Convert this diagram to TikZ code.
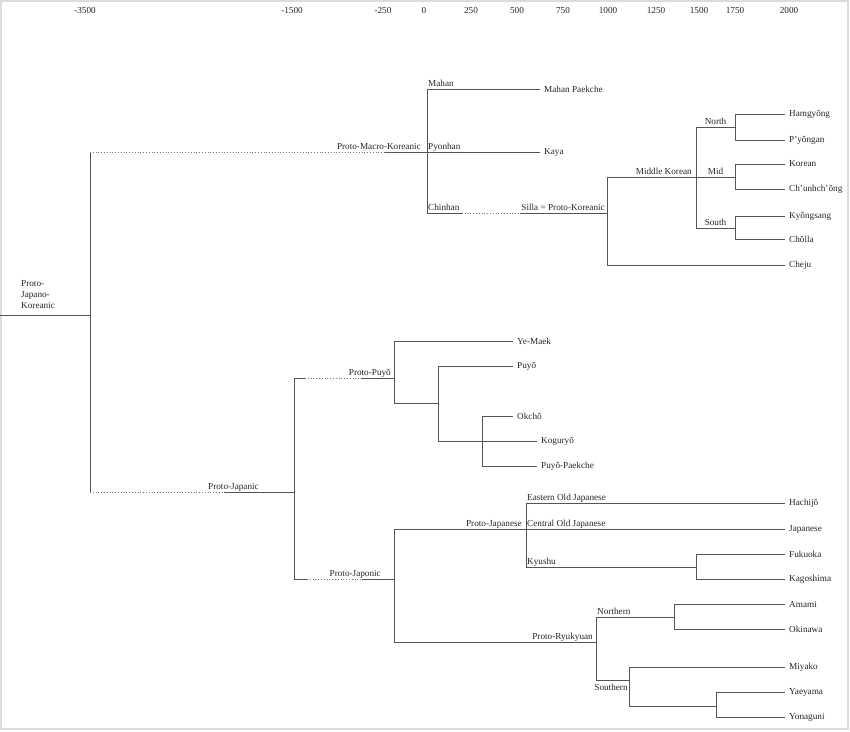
\documentclass[tikz,border=0pt]{standalone}
\usepackage{fontspec}
\setmainfont{Liberation Serif}
\usetikzlibrary{calc}
\definecolor{treeline}{HTML}{555555}
\definecolor{framegray}{HTML}{DCDCDC}

\begin{document}
\begin{tikzpicture}[x=1pt, y=-1pt,
    br/.style={draw=treeline, line width=0.8pt},
    dots/.style={draw=treeline!80, line width=0.8pt, dotted},
    lbl/.style={font=\fontsize{9.2}{11}\selectfont, text=black!85, inner sep=1pt},
    inner/.style={lbl, anchor=base east, yshift=3pt},
    tag/.style={lbl, anchor=base west, yshift=3pt},
    leaf/.style={lbl, anchor=west, inner xsep=4pt},
  ]
  \useasboundingbox (0,0) rectangle (850,731);
  \draw[framegray, line width=1.5pt] (1,1) rectangle (848,729);

  % time axis, years
  \foreach \yr/\xp in {-3500/85, -1500/292, -250/383, 0/424, 250/471,
                       500/517, 750/563, 1000/608, 1250/656, 1500/699,
                       1750/735, 2000/789}{
    \node[lbl] (tick\xp) at (\xp,10) {\yr};
  }

  % root
  \coordinate (root) at (0,315);
  \coordinate (pjk) at (90,315);
  \node[lbl, anchor=south west, align=left, inner sep=0pt] (pjk-l) at (21,309)
    {Proto-\\Japano-\\Koreanic};
  \draw[br] (root) -- (pjk);

  % ---- Koreanic side ----
  \coordinate (pmk) at (427,152);
  \coordinate (pmk-d) at (385,152);
  \draw[br] (pjk) -- (pjk |- pmk);
  \draw[dots] (pjk |- pmk) -- (pmk-d);
  \draw[br] (pmk-d) -- (pmk);
  \node[inner, xshift=-5pt] (pmk-l) at (pmk) {Proto-Macro-Koreanic};

  \node[leaf] (mahanpk) at (540,89) {Mahan Paekche};
  \node[leaf] (kaya) at (540,152) {Kaya};
  \coordinate (silla) at (607,213);
  \coordinate (chin-a) at (462,213);
  \coordinate (chin-b) at (520,213);
  \draw[br] (pmk) |- (mahanpk.west);
  \draw[br] (pmk) -- (kaya.west);
  \draw[br] (pmk) |- (chin-a);
  \draw[dots] (chin-a) -- (chin-b);
  \draw[br] (chin-b) -- (silla);
  \node[tag] (mahan-l) at (pmk |- mahanpk) {Mahan};
  \node[tag] (pyonhan-l) at (pmk) {Pyonhan};
  \node[tag] (chinhan-l) at (pmk |- silla) {Chinhan};
  \node[inner, xshift=-1pt] (silla-l) at (silla) {Silla = Proto-Koreanic};

  \coordinate (mk) at (696,177);
  \node[leaf] (cheju) at (785,265) {Cheju};
  \draw[br] (silla) |- (mk);
  \draw[br] (silla) |- (cheju.west);
  \node[inner, xshift=-3pt] (mk-l) at (mk) {Middle Korean};

  % dialect groups
  \coordinate (north) at (735,127);
  \coordinate (mid) at (735,177);
  \coordinate (south) at (735,228);
  \foreach \grp/\txt in {north/North, mid/Mid, south/South}{
    \draw[br] (mk) |- (\grp);
    \node[lbl, anchor=base, yshift=3pt] (\grp-l) at ($(mk |- \grp)!0.5!(\grp)$) {\txt};
  }
  \node[leaf] (hamgyong) at (785,114) {Hamgyŏng};
  \node[leaf] (pyongan) at (785,140) {P’yŏngan};
  \node[leaf] (korean) at (785,164) {Korean};
  \node[leaf] (chunh) at (785,189) {Ch’unhch’ŏng};
  \node[leaf] (kyongsang) at (785,216) {Kyŏngsang};
  \node[leaf] (cholla) at (785,239) {Chŏlla};
  \foreach \a/\b in {north/hamgyong, north/pyongan, mid/korean, mid/chunh,
                     south/kyongsang, south/cholla}{
    \draw[br] (\a) |- (\b.west);
  }

  % ---- Japanic side ----
  \coordinate (pjc) at (294,492);
  \coordinate (pjc-d) at (224,492);
  \draw[br] (pjk) -- (pjk |- pjc);
  \draw[dots] (pjk |- pjc) -- (pjc-d);
  \draw[br] (pjc-d) -- (pjc);
  \node[inner, xshift=-34pt] (pjc-l) at (pjc) {Proto-Japanic};

  % Puyo branch
  \coordinate (ppy) at (394,378);
  \coordinate (ppy-a) at (305,378);
  \coordinate (ppy-b) at (361,378);
  \draw[br] (pjc) |- (ppy-a);
  \draw[dots] (ppy-a) -- (ppy-b);
  \draw[br] (ppy-b) -- (ppy);
  \node[inner, xshift=-2pt] (ppy-l) at (ppy) {Proto-Puyŏ};

  \node[leaf] (yemaek) at (513,341) {Ye-Maek};
  \node[leaf] (puyo) at (513,366) {Puyŏ};
  \node[leaf] (okcho) at (513,416) {Okchŏ};
  \node[leaf] (koguryo) at (537,441) {Koguryŏ};
  \node[leaf] (puyopk) at (537,466) {Puyŏ-Paekche};
  \coordinate (pb) at (438,403);
  \coordinate (kk) at (482,441);
  \draw[br] (ppy) |- (yemaek.west);
  \draw[br] (ppy) |- (pb);
  \draw[br] (pb) |- (puyo.west);
  \draw[br] (pb) |- (koguryo.west);
  \draw[br] (kk) |- (okcho.west);
  \draw[br] (kk) |- (puyopk.west);

  % Japonic branch
  \coordinate (pjn) at (394,579);
  \coordinate (pjn-a) at (307,579);
  \coordinate (pjn-b) at (362,579);
  \draw[br] (pjc) |- (pjn-a);
  \draw[dots] (pjn-a) -- (pjn-b);
  \draw[br] (pjn-b) -- (pjn);
  \node[inner, xshift=-12pt] (pjn-l) at (pjn) {Proto-Japonic};

  \coordinate (pjs) at (526,529);
  \coordinate (prk) at (596,642);
  \draw[br] (pjn) |- (pjs);
  \draw[br] (pjn) |- (prk);
  \node[inner, xshift=-3pt] (pjs-l) at (pjs) {Proto-Japanese};
  \node[inner, xshift=-2pt] (prk-l) at (prk) {Proto-Ryukyuan};

  \node[leaf] (hachijo) at (785,503) {Hachijŏ};
  \node[leaf] (japanese) at (785,529) {Japanese};
  \node[leaf] (fukuoka) at (785,554) {Fukuoka};
  \node[leaf] (kagoshima) at (785,579) {Kagoshima};
  \coordinate (kyu) at (696,567);
  \draw[br] (pjs) |- (hachijo.west);
  \draw[br] (pjs) -- (japanese.west);
  \draw[br] (pjs) |- (kyu);
  \draw[br] (kyu) |- (fukuoka.west);
  \draw[br] (kyu) |- (kagoshima.west);
  \node[tag] (eoj-l) at (pjs |- hachijo) {Eastern Old Japanese};
  \node[tag] (coj-l) at (pjs) {Central Old Japanese};
  \node[tag] (kyu-l) at (pjs |- kyu) {Kyushu};

  % Ryukyuan
  \coordinate (nrt) at (674,617);
  \coordinate (sth) at (629,680);
  \coordinate (yy) at (716,706);
  \node[leaf] (amami) at (785,604) {Amami};
  \node[leaf] (okinawa) at (785,629) {Okinawa};
  \node[leaf] (miyako) at (785,667) {Miyako};
  \node[leaf] (yaeyama) at (785,692) {Yaeyama};
  \node[leaf] (yonaguni) at (785,717) {Yonaguni};
  \draw[br] (prk) |- (nrt);
  \draw[br] (prk) |- (sth);
  \draw[br] (nrt) |- (amami.west);
  \draw[br] (nrt) |- (okinawa.west);
  \draw[br] (sth) |- (miyako.west);
  \draw[br] (sth) |- (yy);
  \draw[br] (yy) |- (yaeyama.west);
  \draw[br] (yy) |- (yonaguni.west);
  \node[tag] (nrt-l) at (prk |- nrt) {Northern};
  \node[lbl] (sth-l) at (611,687) {Southern};
\end{tikzpicture}
\end{document}
